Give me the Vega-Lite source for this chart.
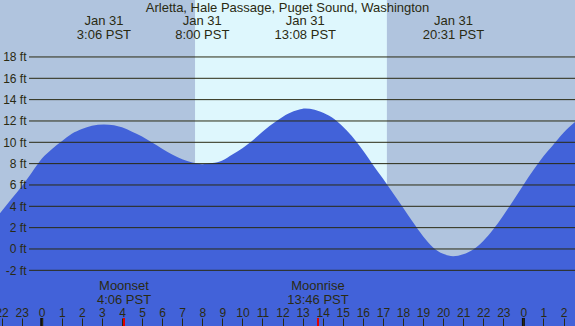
{
  "$schema": "https://vega.github.io/schema/vega-lite/v6.json",
  "width": 575,
  "height": 326,
  "autosize": "none",
  "padding": 0,
  "background": "#b0c4de",
  "config": {
    "view": {"stroke": null},
    "font": "Liberation Sans",
    "axis": {"labelOverlap": false, "labelFlush": false, "zindex": 2, "domain": false, "grid": false, "title": null,
      "labelFont": "Liberation Sans", "labelFontSize": 12, "labelColor": "#2a2a12", "tickColor": "#2a2a12"},
    "axisX": {"offset": -8, "tickSize": 8, "tickWidth": 1, "labelPadding": -14, "labelBaseline": "middle"},
    "axisY": {"offset": -29, "ticks": false, "labelPadding": 3}
  },
  "datasets": {
    "tide": [
      {"hr": -2.1, "ft": 3.3}, {"hr": -1.5, "ft": 4.7}, {"hr": -1.0, "ft": 5.85}, {"hr": -0.5, "ft": 7.15},
      {"hr": 0.0, "ft": 8.45}, {"hr": 0.5, "ft": 9.35}, {"hr": 1.0, "ft": 10.1}, {"hr": 1.5, "ft": 10.8},
      {"hr": 2.0, "ft": 11.25}, {"hr": 2.5, "ft": 11.55}, {"hr": 3.1, "ft": 11.68}, {"hr": 3.6, "ft": 11.6},
      {"hr": 4.0, "ft": 11.4}, {"hr": 4.5, "ft": 11.0}, {"hr": 5.0, "ft": 10.55}, {"hr": 5.5, "ft": 9.98},
      {"hr": 6.0, "ft": 9.4}, {"hr": 6.5, "ft": 8.85}, {"hr": 7.0, "ft": 8.4}, {"hr": 7.5, "ft": 8.1},
      {"hr": 8.0, "ft": 7.95}, {"hr": 8.5, "ft": 8.05}, {"hr": 9.0, "ft": 8.3}, {"hr": 9.5, "ft": 8.85},
      {"hr": 10.0, "ft": 9.45}, {"hr": 10.4, "ft": 10.0}, {"hr": 11.0, "ft": 11.0}, {"hr": 11.7, "ft": 12.0},
      {"hr": 12.3, "ft": 12.7}, {"hr": 12.8, "ft": 13.05}, {"hr": 13.13, "ft": 13.17}, {"hr": 13.6, "ft": 13.05},
      {"hr": 14.2, "ft": 12.6}, {"hr": 14.7, "ft": 12.0}, {"hr": 15.2, "ft": 11.1}, {"hr": 15.7, "ft": 10.0},
      {"hr": 16.1, "ft": 9.0}, {"hr": 16.5, "ft": 7.9}, {"hr": 17.0, "ft": 6.6}, {"hr": 17.5, "ft": 5.25},
      {"hr": 18.0, "ft": 3.9}, {"hr": 18.5, "ft": 2.5}, {"hr": 19.0, "ft": 1.2}, {"hr": 19.5, "ft": 0.15},
      {"hr": 20.0, "ft": -0.45}, {"hr": 20.5, "ft": -0.68}, {"hr": 21.0, "ft": -0.5}, {"hr": 21.5, "ft": -0.05},
      {"hr": 22.0, "ft": 0.75}, {"hr": 22.5, "ft": 1.85}, {"hr": 23.0, "ft": 3.15}, {"hr": 23.5, "ft": 4.55},
      {"hr": 24.0, "ft": 6.0}, {"hr": 24.5, "ft": 7.4}, {"hr": 25.0, "ft": 8.7}, {"hr": 25.5, "ft": 9.8},
      {"hr": 26.0, "ft": 10.9}, {"hr": 26.6, "ft": 11.95}
    ],
    "grid": [{"ft": -2}, {"ft": 0}, {"ft": 2}, {"ft": 4}, {"ft": 6}, {"ft": 8}, {"ft": 10}, {"ft": 12}, {"ft": 14}, {"ft": 16}, {"ft": 18}],
    "daylight": [{"start": 7.64, "end": 17.2}],
    "extremes": [
      {"hr": 3.1, "date": "Jan 31", "time": "3:06 PST"},
      {"hr": 8.0, "date": "Jan 31", "time": "8:00 PST"},
      {"hr": 13.133, "date": "Jan 31", "time": "13:08 PST"},
      {"hr": 20.517, "date": "Jan 31", "time": "20:31 PST"}
    ],
    "moon": [
      {"hr": 4.1, "event": "Moonset", "time": "4:06 PST"},
      {"hr": 13.767, "event": "Moonrise", "time": "13:46 PST"}
    ],
    "midnight": [{"hr": 0}, {"hr": 24}],
    "title": [{"hr": 12.25, "text": "Arletta, Hale Passage, Puget Sound, Washington"}]
  },
  "layer": [
    {
      "data": {"name": "daylight"},
      "mark": {"type": "rect", "color": "#def7fd"},
      "encoding": {
        "x": {"field": "start", "type": "quantitative", "scale": {"domain": [-2.078, 26.572], "nice": false, "zero": false}},
        "x2": {"field": "end"}
      }
    },
    {
      "data": {"name": "tide"},
      "mark": {"type": "area", "interpolate": "monotone", "color": "#4262d9"},
      "encoding": {
        "x": {"field": "hr", "type": "quantitative", "scale": {"domain": [-2.078, 26.572], "nice": false, "zero": false},
          "axis": {"orient": "bottom", "offset": -8, "zindex": 2, "tickCount": 100, "values": [-2,-1,0,1,2,3,4,5,6,7,8,9,10,11,12,13,14,15,16,17,18,19,20,21,22,23,24,25,26],
            "labelExpr": "'' + (((datum.value % 24) + 24) % 24)", "tickSize": 8, "tickColor": "#2a2a12", "tickWidth": 1,
            "domain": false, "grid": false, "labelPadding": -14, "labelBaseline": "middle", "labelFlush": false, "labelOverlap": false,
            "labelFontSize": 12, "labelColor": "#2a2a12", "labelFont": "Liberation Sans", "title": null}},
        "y": {"field": "ft", "type": "quantitative", "scale": {"domain": [-7.22, 23.34], "nice": false, "zero": false},
          "axis": {"orient": "left", "offset": -29, "zindex": 2, "tickCount": 100, "values": [-2,0,2,4,6,8,10,12,14,16,18], "labelExpr": "datum.value + ' ft'",
            "domain": false, "ticks": false, "grid": false, "labelPadding": 3, "labelFontSize": 12, "labelColor": "#2a2a12",
            "labelOverlap": false, "labelFont": "Liberation Sans", "title": null}},
        "y2": {"datum": -7.22}
      }
    },
    {
      "data": {"name": "grid"},
      "mark": {"type": "rule", "color": "#2a2a12", "strokeWidth": 1},
      "encoding": {
        "x": {"datum": -0.63, "type": "quantitative", "scale": {"domain": [-2.078, 26.572], "nice": false, "zero": false}},
        "x2": {"datum": 26.572},
        "y": {"field": "ft", "type": "quantitative", "scale": {"domain": [-7.22, 23.34], "nice": false, "zero": false}}
      }
    },
    {
      "data": {"name": "midnight"},
      "mark": {"type": "rule", "color": "#111111", "strokeWidth": 3},
      "encoding": {
        "x": {"field": "hr", "type": "quantitative", "scale": {"domain": [-2.078, 26.572], "nice": false, "zero": false}},
        "y": {"datum": -6.47, "type": "quantitative", "scale": {"domain": [-7.22, 23.34], "nice": false, "zero": false}},
        "y2": {"datum": -7.22}
      }
    },
    {
      "data": {"name": "moon"},
      "mark": {"type": "rule", "color": "#e00000", "strokeWidth": 2},
      "encoding": {
        "x": {"field": "hr", "type": "quantitative", "scale": {"domain": [-2.078, 26.572], "nice": false, "zero": false}},
        "y": {"datum": -6.47, "type": "quantitative", "scale": {"domain": [-7.22, 23.34], "nice": false, "zero": false}},
        "y2": {"datum": -7.22}
      }
    },
    {
      "data": {"name": "moon"},
      "mark": {"type": "text", "color": "#2a2a12", "fontSize": 13, "font": "Liberation Sans", "baseline": "middle", "align": "center"},
      "encoding": {
        "x": {"field": "hr", "type": "quantitative", "scale": {"domain": [-2.078, 26.572], "nice": false, "zero": false}},
        "y": {"datum": -3.45, "type": "quantitative", "scale": {"domain": [-7.22, 23.34], "nice": false, "zero": false}},
        "text": {"field": "event"}
      }
    },
    {
      "data": {"name": "moon"},
      "mark": {"type": "text", "color": "#2a2a12", "fontSize": 13, "font": "Liberation Sans", "baseline": "middle", "align": "center"},
      "encoding": {
        "x": {"field": "hr", "type": "quantitative", "scale": {"domain": [-2.078, 26.572], "nice": false, "zero": false}},
        "y": {"datum": -4.75, "type": "quantitative", "scale": {"domain": [-7.22, 23.34], "nice": false, "zero": false}},
        "text": {"field": "time"}
      }
    },
    {
      "data": {"name": "extremes"},
      "mark": {"type": "text", "color": "#2a2a12", "fontSize": 13, "font": "Liberation Sans", "baseline": "middle", "align": "center"},
      "encoding": {
        "x": {"field": "hr", "type": "quantitative", "scale": {"domain": [-2.078, 26.572], "nice": false, "zero": false}},
        "y": {"datum": 21.34, "type": "quantitative", "scale": {"domain": [-7.22, 23.34], "nice": false, "zero": false}},
        "text": {"field": "date"}
      }
    },
    {
      "data": {"name": "extremes"},
      "mark": {"type": "text", "color": "#2a2a12", "fontSize": 13, "font": "Liberation Sans", "baseline": "middle", "align": "center"},
      "encoding": {
        "x": {"field": "hr", "type": "quantitative", "scale": {"domain": [-2.078, 26.572], "nice": false, "zero": false}},
        "y": {"datum": 20.07, "type": "quantitative", "scale": {"domain": [-7.22, 23.34], "nice": false, "zero": false}},
        "text": {"field": "time"}
      }
    },
    {
      "data": {"name": "title"},
      "mark": {"type": "text", "color": "#2a2a12", "fontSize": 13, "font": "Liberation Sans", "baseline": "middle", "align": "center"},
      "encoding": {
        "x": {"field": "hr", "type": "quantitative", "scale": {"domain": [-2.078, 26.572], "nice": false, "zero": false}},
        "y": {"datum": 22.6, "type": "quantitative", "scale": {"domain": [-7.22, 23.34], "nice": false, "zero": false}},
        "text": {"field": "text"}
      }
    }
  ]
}
